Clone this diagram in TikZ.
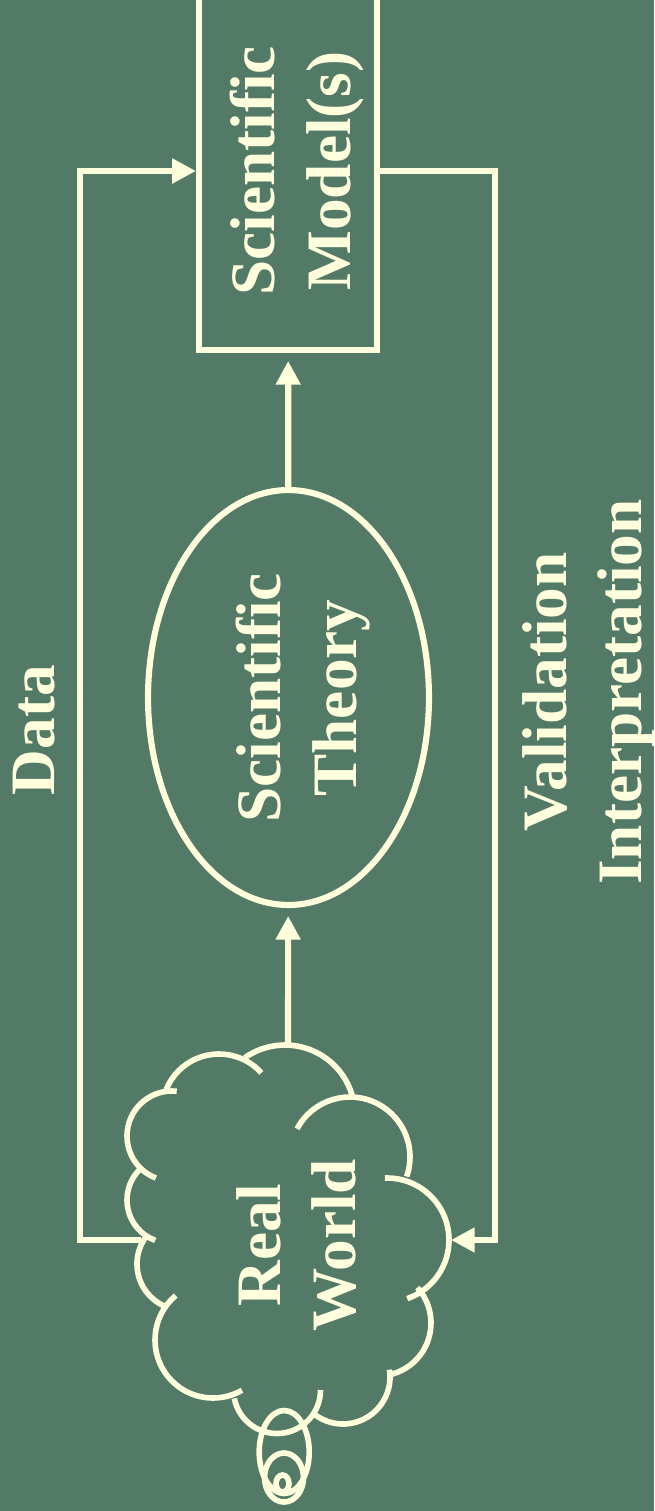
\documentclass[tikz,border=0pt]{standalone}
\usepackage{fontspec}
\setmainfont{Liberation Serif}
\usetikzlibrary{shapes.geometric,arrows.meta}
\definecolor{bg}{HTML}{527A66}
\definecolor{fg}{HTML}{FFFFDD}
\newcommand\cloudbump[5]{\draw[cloudline] (#1,#2) ++(#4:#3) arc[start angle=#4,end angle=#5,radius=#3];}
\begin{document}
\begin{tikzpicture}[x=0.02cm,y=0.02cm,line width=3.5pt,
  lbl/.style={text=fg,font=\bfseries\fontsize{36}{43}\selectfont,align=center,rotate=90,inner sep=0pt},
  modelbox/.style={draw=fg,rectangle,rotate=90,minimum width=7.16cm,minimum height=3.56cm,inner sep=0pt},
  theorybox/.style={draw=fg,ellipse,rotate=90,minimum width=8.3cm,minimum height=5.62cm,inner sep=0pt},
  conn/.style={draw=fg,-{Triangle[length=13.5pt,width=13.5pt]}},
  gapconn/.style={conn,shorten >=4.5pt},
  cloudline/.style={draw=fg,line width=3.2pt}]
\fill[bg] (0,0) rectangle (654,-1511);
\useasboundingbox (0,0) rectangle (654,-1511);

% nodes
\node[modelbox] (model) at (288,-171) {};
\node[lbl] (modeltext) at (297,-171) {Scientific\\Model(s)};
\node[theorybox] (theory) at (288.5,-697.5) {};
\node[lbl] (theorytext) at (303,-698) {Scientific\\Theory};
\node[lbl] (cloudtext) at (296.5,-1245) {Real\\World};
\node[lbl] (datalbl) at (34,-730) {Data};
\node[lbl] (validlbl) at (589,-692) {Validation\\Interpretation};

% cloud
\cloudbump{170}{-1200}{43}{130}{250}
\cloudbump{172}{-1136}{45}{84}{249}
\cloudbump{219}{-1111}{57}{158}{42}
\cloudbump{285}{-1115}{70}{125}{14}
\cloudbump{350}{-1157}{60}{152}{-19}
\cloudbump{387}{-1240}{62}{92}{-71}
\cloudbump{378}{-1323}{53}{42}{-77}
\cloudbump{343}{-1377}{47}{9}{-126}
\cloudbump{277}{-1390}{43.5}{191}{360}
\cloudbump{213}{-1340}{58}{130}{300}
\cloudbump{183}{-1264}{46}{140}{246}
\draw[cloudline] (284.2,-1452) ellipse[x radius=25,y radius=41.5];
\draw[cloudline] (284,-1477.5) ellipse[x radius=19.5,y radius=24.5];
\draw[cloudline] (282.5,-1483.5) ellipse[x radius=6.5,y radius=8.5];

\coordinate (cloudT) at (288,-1045);
\coordinate (cloudL) at (141,-1240);
\coordinate (cloudR) at (451,-1240);
\coordinate (dL) at (80,-171);
\coordinate (dR) at (495,-171);

% connectors
\draw[gapconn] (cloudT) -- (theory);
\draw[gapconn] (theory) -- (model);
\draw[conn] (cloudL) -| (dL) -- (model);
\draw[conn] (model) -- (dR) |- (cloudR);
\end{tikzpicture}
\end{document}
